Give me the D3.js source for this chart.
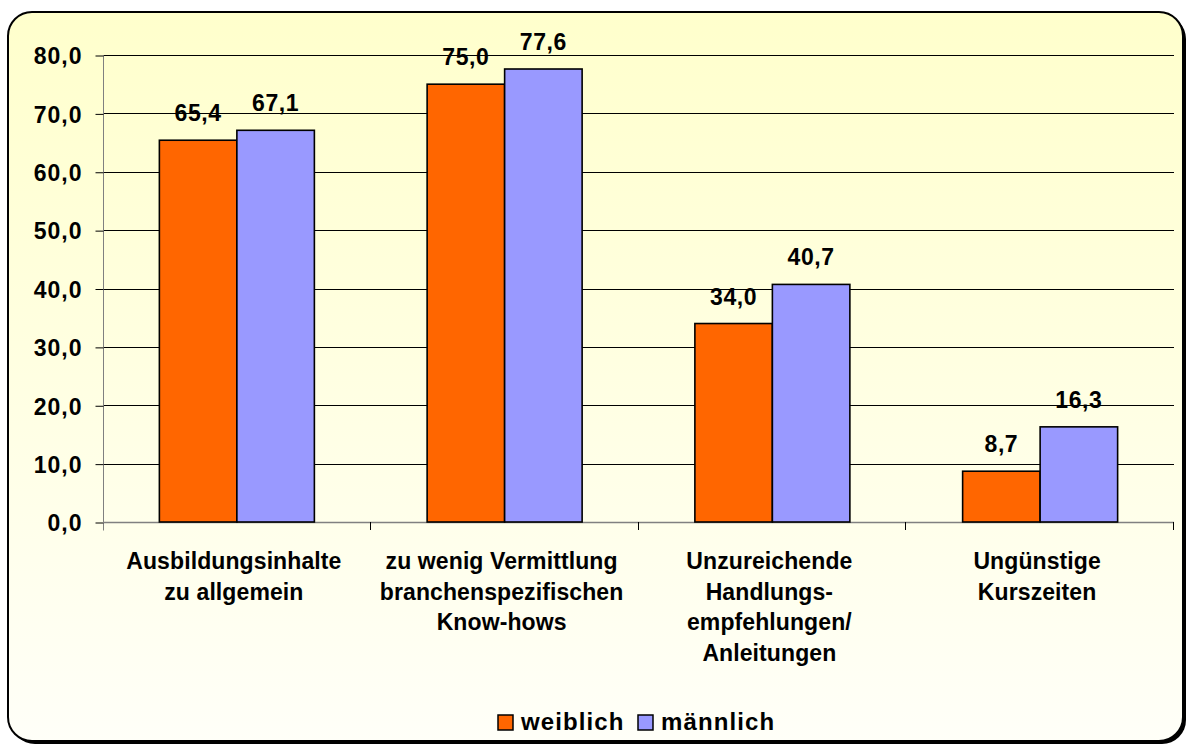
<!DOCTYPE html>
<html>
<head>
<meta charset="utf-8">
<script src="https://cdn.jsdelivr.net/npm/d3@7"></script>
<style>
  html, body { margin: 0; padding: 0; background: #fff; }
  svg { display: block; }
  text { font-family: "Liberation Sans", Arial, sans-serif; font-weight: bold; fill: #000; }
</style>
</head>
<body>
<svg id="chart" width="1193" height="747"></svg>
<script>
const categories = [
  ["Ausbildungsinhalte", "zu allgemein"],
  ["zu wenig Vermittlung", "branchenspezifischen", "Know-hows"],
  ["Unzureichende", "Handlungs-", "empfehlungen/", "Anleitungen"],
  ["Ungünstige", "Kurszeiten"]
];
const seriesNames = ["weiblich", "männlich"];
const weiblich = [65.4, 75.0, 34.0, 8.7];
const maennlich = [67.1, 77.6, 40.7, 16.3];
const yTicks = [0, 10, 20, 30, 40, 50, 60, 70, 80];
const colors = ["#FF6600", "#9999FF"];

const svg = d3.select("#chart");

const defs = svg.append("defs");
const grad = defs.append("linearGradient").attr("id", "bg").attr("x1", 0).attr("y1", 0).attr("x2", 0).attr("y2", 1);
grad.append("stop").attr("offset", "0%").attr("stop-color", "#FFFFCC");
grad.append("stop").attr("offset", "100%").attr("stop-color", "#FFFFF8");

const box = {x: 8, y: 12, w: 1175, h: 729, r: 24};
svg.append("rect").attr("x", box.x + 3).attr("y", box.y + 3).attr("width", box.w).attr("height", box.h)
  .attr("rx", box.r).attr("fill", "#000");
svg.append("rect").attr("x", box.x).attr("y", box.y).attr("width", box.w).attr("height", box.h)
  .attr("rx", box.r).attr("fill", "url(#bg)").attr("stroke", "#000").attr("stroke-width", 2);

const plot = {left: 103, right: 1174, top: 55, bottom: 522};

const x0 = d3.scaleBand().domain(d3.range(categories.length)).range([plot.left, plot.right]).paddingInner(0).paddingOuter(0);
const innerPad = (x0.bandwidth() - 155) / 2;
const x1 = d3.scaleBand().domain([0, 1]).range([innerPad, x0.bandwidth() - innerPad]);
const y = d3.scaleLinear().domain([0, 80]).range([plot.bottom, plot.top]);

// gridlines
svg.append("g").selectAll("line").data(yTicks.filter(d => d > 0)).join("line")
  .attr("x1", plot.left).attr("x2", plot.right)
  .attr("y1", d => Math.round(y(d)) + 0.5).attr("y2", d => Math.round(y(d)) + 0.5)
  .attr("stroke", "#000").attr("stroke-width", 1);

// y axis
const yAxis = d3.axisLeft(y).tickValues(yTicks).tickSize(8).tickPadding(13)
  .tickFormat(d => d3.format(".1f")(d).replace(".", ","));
const gy = svg.append("g").attr("transform", `translate(${plot.left + 0.5},0.5)`).call(yAxis);
gy.select(".domain").attr("stroke", "#808080").attr("d", `M0,${plot.top - 0.5}V${plot.bottom + 8}`);
gy.selectAll(".tick line").attr("stroke", "#000");
gy.selectAll(".tick text").style("font-size", "23px").style("letter-spacing", "1px").attr("dy", "0.36em");

// x axis baseline & ticks
const xAxisG = svg.append("g");
xAxisG.append("line").attr("x1", plot.left).attr("x2", plot.right)
  .attr("y1", plot.bottom + 0.5).attr("y2", plot.bottom + 0.5).attr("stroke", "#808080").attr("stroke-width", 1.5);
const bounds = d3.range(categories.length + 1).map(i => i === categories.length ? plot.right : x0(i));
xAxisG.selectAll("line.t").data(bounds.slice(1)).join("line").attr("class", "t")
  .attr("x1", d => Math.round(d) - 0.5).attr("x2", d => Math.round(d) - 0.5)
  .attr("y1", plot.bottom).attr("y2", plot.bottom + 8).attr("stroke", "#000");

// bars
const data = categories.map((c, i) => ({i, vals: [weiblich[i], maennlich[i]]}));
const groups = svg.append("g").selectAll("g").data(data).join("g")
  .attr("transform", d => `translate(${x0(d.i)},0)`);
groups.selectAll("rect").data(d => d.vals.map((v, k) => ({v, k}))).join("rect")
  .attr("x", d => x1(d.k)).attr("width", x1.bandwidth())
  .attr("y", d => y(d.v)).attr("height", d => y(0) - y(d.v))
  .attr("fill", d => colors[d.k]).attr("stroke", "#000").attr("stroke-width", 1.6);
groups.selectAll("text.v").data(d => d.vals.map((v, k) => ({v, k}))).join("text").attr("class", "v")
  .attr("x", d => x1(d.k) + x1.bandwidth() / 2).attr("y", d => y(d.v) - 19)
  .attr("text-anchor", "middle").style("font-size", "23px").style("letter-spacing", "0.6px")
  .text(d => d3.format(".1f")(d.v).replace(".", ","));

// category labels
const catG = svg.append("g").selectAll("text").data(categories).join("text")
  .attr("x", (d, i) => x0(i) + x0.bandwidth() / 2 - 3).attr("y", 569)
  .attr("text-anchor", "middle").style("font-size", "23px").style("letter-spacing", "0.1px");
catG.selectAll("tspan").data(d => d).join("tspan")
  .attr("x", function() { return d3.select(this.parentNode).attr("x"); })
  .attr("dy", (d, j) => j === 0 ? 0 : 30.5).text(d => d);

// legend
const legend = svg.append("g");
const legItems = [{name: seriesNames[0], c: colors[0], x: 498}, {name: seriesNames[1], c: colors[1], x: 638}];
legItems.forEach(it => {
  legend.append("rect").attr("x", it.x).attr("y", 715).attr("width", 15).attr("height", 15)
    .attr("fill", it.c).attr("stroke", "#000").attr("stroke-width", 1.5);
  legend.append("text").attr("x", it.x + 23).attr("y", 730).style("font-size", "24px").style("letter-spacing", "1.1px").text(it.name);
});
</script>
</body>
</html>
